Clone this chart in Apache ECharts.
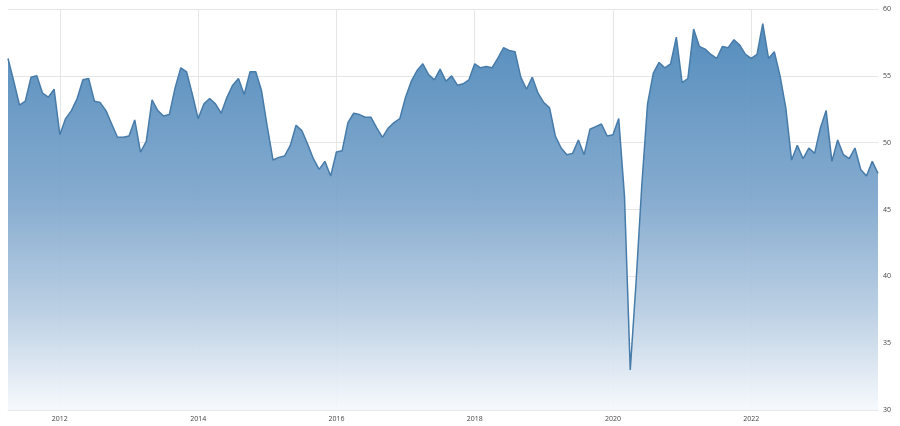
<!DOCTYPE html>
<html>
<head>
<meta charset="utf-8">
<script src="https://cdn.jsdelivr.net/npm/echarts@6/dist/echarts.min.js"></script>
<style>
html,body{margin:0;padding:0;background:#fff;}
#chart{width:900px;height:426px;}
</style>
</head>
<body>
<div id="chart"></div>
<script>
// Monthly values, April 2011 .. November 2023
const startYear = 2011;
const startMonth = 4;
const values = [
  56.3, 54.6, 52.8, 53.1, 54.9, 55.0, 53.7, 53.4, 54.0,
  50.6, 51.8, 52.4, 53.3, 54.7, 54.8, 53.1, 53.0, 52.4, 51.4, 50.4, 50.4,
  50.5, 51.7, 49.3, 50.1, 53.2, 52.4, 52.0, 52.1, 54.1, 55.6, 55.3, 53.6,
  51.8, 52.9, 53.3, 52.9, 52.2, 53.4, 54.3, 54.8, 53.6, 55.3, 55.3, 53.9,
  51.2, 48.7, 48.9, 49.0, 49.8, 51.3, 50.9, 49.9, 48.8, 48.0, 48.6, 47.5,
  49.3, 49.4, 51.5, 52.2, 52.1, 51.9, 51.9, 51.1, 50.4, 51.1, 51.5, 51.8,
  53.4, 54.6, 55.4, 55.9, 55.1, 54.7, 55.5, 54.6, 55.0, 54.3, 54.4, 54.7,
  55.9, 55.6, 55.7, 55.6, 56.3, 57.1, 56.9, 56.8, 54.9, 54.0, 54.9, 53.7,
  53.0, 52.6, 50.5, 49.6, 49.1, 49.2, 50.2, 49.1, 51.0, 51.2, 51.4, 50.5,
  50.6, 51.8, 46.0, 33.0, 39.5, 46.8, 52.9, 55.2, 56.0, 55.6, 55.9, 57.9,
  54.5, 54.8, 58.5, 57.2, 57.0, 56.6, 56.3, 57.2, 57.1, 57.7, 57.3, 56.6,
  56.3, 56.6, 58.9, 56.3, 56.8, 55.0, 52.6, 48.7, 49.8, 48.8, 49.6, 49.2,
  51.1, 52.4, 48.6, 50.2, 49.1, 48.8, 49.6, 48.0, 47.5, 48.6, 47.7
];
const labelYears = ['2012', '2014', '2016', '2018', '2020', '2022'];
const yTicks = [30, 35, 40, 45, 50, 55, 60];

const months = values.map(function (v, i) {
  const m0 = startMonth - 1 + i;
  const y = startYear + Math.floor(m0 / 12);
  const m = (m0 % 12) + 1;
  return y + '-' + (m < 10 ? '0' + m : '' + m);
});

function isLabelMonth(index, value) {
  const cat = months[index];
  return cat.slice(5) === '01' && labelYears.indexOf(cat.slice(0, 4)) >= 0;
}

const chart = echarts.init(document.getElementById('chart'), null, {renderer: 'canvas'});
chart.setOption({
  animation: false,
  backgroundColor: '#ffffff',
  grid: {left: 8, right: 22, top: 9, bottom: 16, containLabel: false},
  xAxis: {
    type: 'category',
    data: months,
    boundaryGap: false,
    axisLine: {show: true, lineStyle: {color: '#e8e8e8', width: 1}},
    axisTick: {show: false},
    axisLabel: {
      interval: isLabelMonth,
      formatter: function (v) { return v.slice(0, 4); },
      color: '#444',
      fontSize: 7,
      fontFamily: 'Open Sans',
      margin: 5
    },
    splitLine: {show: true, interval: isLabelMonth, lineStyle: {color: '#e6e6e6', width: 1}}
  },
  yAxis: {
    type: 'value',
    position: 'right',
    min: yTicks[0],
    max: yTicks[yTicks.length - 1],
    interval: 5,
    axisLine: {show: false},
    axisTick: {show: false},
    axisLabel: {color: '#444', fontSize: 7, fontFamily: 'Open Sans', margin: 5},
    splitLine: {show: true, lineStyle: {color: '#e6e6e6', width: 1}}
  },
  series: [{
    type: 'line',
    data: values,
    symbol: 'none',
    smooth: false,
    lineStyle: {color: '#477ba9', width: 1.5},
    areaStyle: {
      origin: 'start',
      opacity: 0.94,
      color: new echarts.graphic.LinearGradient(0, 0, 0, 1, [
        {offset: 0, color: '#4a86b9'},
        {offset: 0.45, color: '#7ea6cc'},
        {offset: 0.75, color: '#b9cee3'},
        {offset: 1, color: '#f6f9fc'}
      ])
    }
  }]
});
</script>
</body>
</html>
